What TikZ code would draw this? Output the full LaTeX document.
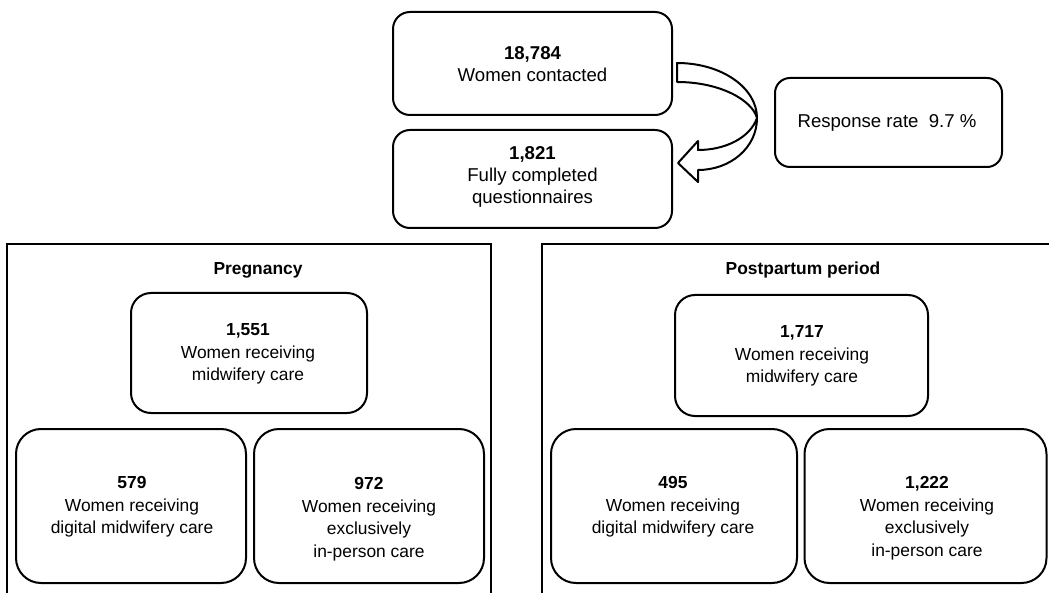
\documentclass[tikz,border=0pt]{standalone}
\usepackage{fontspec}
\setmainfont{Liberation Sans}
\begin{document}
\begin{tikzpicture}[x=1pt,y=-1pt,
  box/.style={draw=black,line width=2pt,rounded corners=#1,inner sep=0pt},
  box/.default=17pt,
  txt/.style={align=center,inner sep=0pt,font=\fontsize{18.6}{22}\selectfont},
  ptxt/.style={align=center,inner sep=0pt,font=\fontsize{17.4}{22.5}\selectfont},
  ttl/.style={inner sep=0pt,font=\fontsize{17.4}{22}\selectfont\bfseries},
  frame/.style={draw=black,line width=2pt}]
\useasboundingbox (0,0) rectangle (1049,593);

% top boxes
\node[box=17pt,minimum width=279pt,minimum height=103pt] (b1) at (532.5,63.5) {};
\node[txt] (t1) at (532.5,64) {\textbf{18,784}\\Women contacted};
\node[box=17pt,minimum width=279pt,minimum height=98pt] (b2) at (532.5,179) {};
\node[txt] (t2) at (532.5,177) {\textbf{1,821}\\Fully completed\\questionnaires};
\node[box=15pt,minimum width=227pt,minimum height=89pt] (rr) at (888.5,122.5) {};
\node[txt] (t3) at (887,123) {Response rate\ \ 9.7 \%};

% curved block arrow
\draw[line width=2pt,line join=round,fill=white]
  (677,63) .. controls (722,63) and (757,88) .. (757,118)
  .. controls (757,148) and (730,170) .. (698,170)
  -- (698,182) -- (678,163) -- (698,141) -- (698,150)
  .. controls (725,150) and (750,138) .. (757,118)
  .. controls (752,100) and (720,82) .. (677,82) -- cycle;

% panels
\draw[frame] (7,593) -- (7,244) -- (491,244) -- (491,593);
\draw[frame] (542,593) -- (542,244) -- (1049,244);
\node[ttl] (pt) at (258,270) {Pregnancy};
\node[ttl] (qt) at (803,270) {Postpartum period};

% pregnancy boxes
\node[box=20pt,minimum width=236pt,minimum height=120pt] (p1) at (249,353) {};
\node[ptxt] (pt1) at (248,354) {\textbf{1,551}\\Women receiving\\midwifery care};
\node[box=25pt,minimum width=230pt,minimum height=154pt] (p2) at (131,506) {};
\node[ptxt] (pt2) at (132,507) {\textbf{579}\\Women receiving\\digital midwifery care};
\node[box=25pt,minimum width=230pt,minimum height=154pt] (p3) at (369,506) {};
\node[ptxt] (pt3) at (369,519) {\textbf{972}\\Women receiving\\exclusively\\in-person care};

% postpartum boxes
\node[box=20pt,minimum width=253pt,minimum height=121pt] (q1) at (801.5,355.5) {};
\node[ptxt] (qt1) at (802,356) {\textbf{1,717}\\Women receiving\\midwifery care};
\node[box=25pt,minimum width=246pt,minimum height=154pt] (q2) at (674,506) {};
\node[ptxt] (qt2) at (673,507) {\textbf{495}\\Women receiving\\digital midwifery care};
\node[box=25pt,minimum width=242pt,minimum height=154pt] (q3) at (925.5,506) {};
\node[ptxt] (qt3) at (927,518) {\textbf{1,222}\\Women receiving\\exclusively\\in-person care};
\end{tikzpicture}
\end{document}
